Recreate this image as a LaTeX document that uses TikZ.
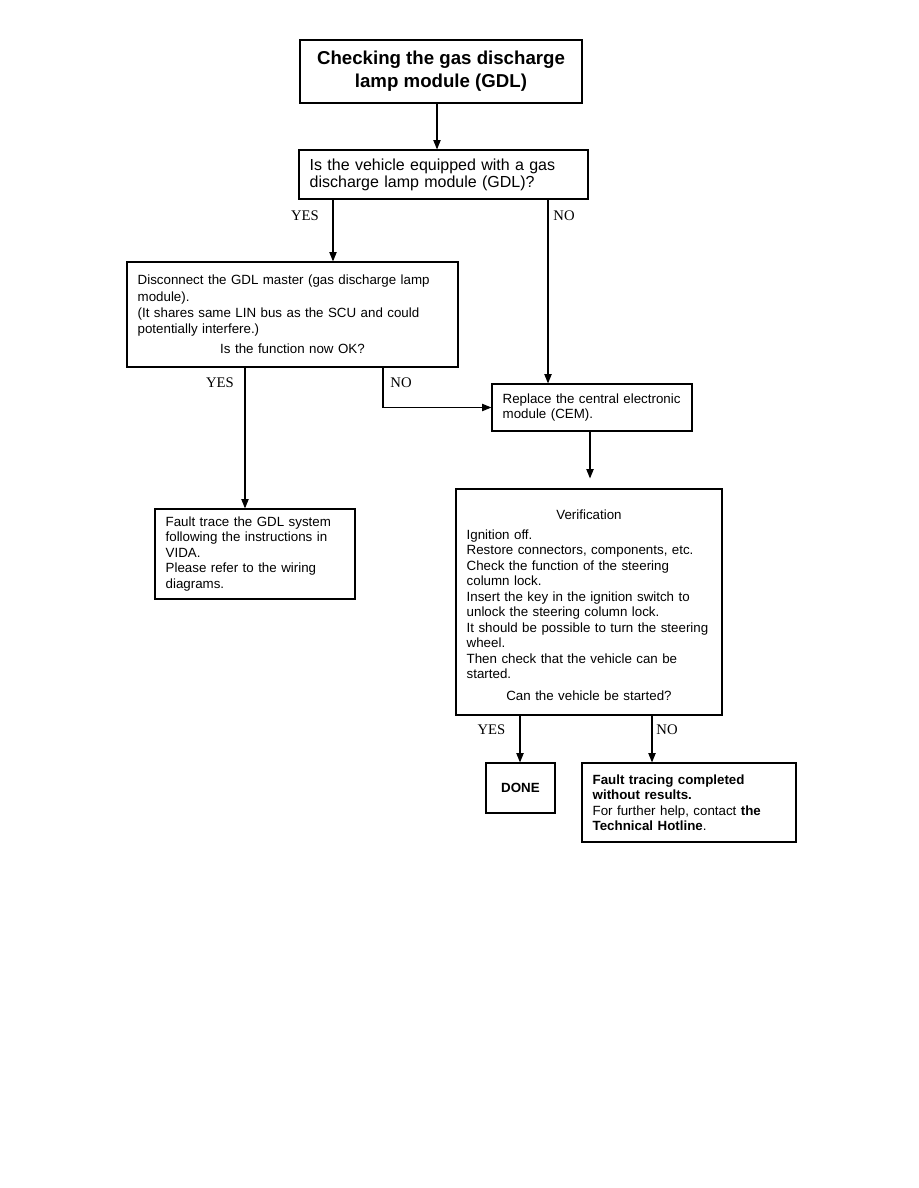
\documentclass[tikz,border=0pt]{standalone}
\usepackage{fontspec}
\setmainfont{Liberation Sans}
\newfontfamily\branchfont{Liberation Serif}
\usetikzlibrary{arrows.meta}
\begin{document}
\begin{tikzpicture}[x=0.75pt,y=-0.75pt,box/.style={draw,line width=0.9pt,fill=white,inner xsep=8pt,inner ysep=3pt,align=left,font=\fontsize{10}{11.6}\selectfont},flow/.style={line width=0.8pt,-{Triangle[length=7pt,width=5.5pt]}},branch/.style={font=\branchfont\fontsize{11}{13}\selectfont,inner sep=0pt}]
\useasboundingbox (0,0) rectangle (918,1188);
\coordinate (colTop) at (437,0);
\coordinate (colYesA) at (333,0);
\coordinate (colNoA) at (548,0);
\coordinate (colYesB) at (245,0);
\coordinate (colNoB) at (383,0);
\coordinate (colCem) at (590,0);
\coordinate (colYesC) at (520,0);
\coordinate (colNoC) at (652,0);
\node[box,line width=1.4pt,minimum width=211.5pt,minimum height=47.25pt,align=center,font=\bfseries\fontsize{14}{17.3}\selectfont] (title) at (441,71.5) {Checking the gas discharge\\lamp module (GDL)};
\node[box,minimum width=216.75pt,minimum height=36.75pt,text width=200.75pt,font=\fontsize{12}{12.8}\selectfont] (equipped) at (443.5,174.5) {Is the vehicle equipped with a gas\\discharge lamp module (GDL)?};
\node[box,minimum width=248.25pt,minimum height=78.75pt,text width=232.25pt,font=\fontsize{10}{12.2}\selectfont] (disconnect) at (292.5,314.5) {Disconnect the GDL master (gas discharge lamp\\module).\\(It shares same LIN bus as the SCU and could\\potentially interfere.)\par\vspace{3pt}\centerline{Is the function now OK?}\vspace{6pt}};
\node[box,minimum width=150pt,minimum height=35.25pt,text width=134pt] (cem) at (592,407.5) {Replace the central electronic\\module (CEM).};
\node[box,minimum width=150pt,minimum height=67.5pt,text width=134pt] (gdltrace) at (255,554) {Fault trace the GDL system\\following the instructions in\\VIDA.\\Please refer to the wiring\\diagrams.};
\node[box,minimum width=199.5pt,minimum height=169.5pt,text width=183.5pt] (verify) at (589,602) {\par\centerline{Verification}\vspace{3.4pt}Ignition off.\\Restore connectors, components, etc.\\Check the function of the steering\\column lock.\\Insert the key in the ignition switch to\\unlock the steering column lock.\\It should be possible to turn the steering\\wheel.\\Then check that the vehicle can be\\started.\par\vspace{4.6pt}\centerline{Can the vehicle be started?}};
\node[box,minimum width=51.75pt,minimum height=37.5pt,align=center,font=\bfseries\fontsize{10}{11.6}\selectfont] (done) at (520.5,788) {DONE};
\node[box,minimum width=160.5pt,minimum height=59.25pt,text width=144.5pt] (hotline) at (689,802.5) {\textbf{Fault tracing completed}\\\textbf{without results.}\\For further help, contact \textbf{the}\\\textbf{Technical Hotline}.};
\draw[flow] (title.south -| colTop) -- (equipped.north -| colTop);
\draw[flow] (equipped.south -| colYesA) -- (disconnect.north -| colYesA);
\draw[flow] (equipped.south -| colNoA) -- (cem.north -| colNoA);
\draw[flow] (disconnect.south -| colYesB) -- (gdltrace.north -| colYesB);
\draw[flow] (disconnect.south -| colNoB) |- (cem.west);
\draw[flow,shorten >=7.5pt] (cem.south -| colCem) -- (verify.north -| colCem);
\draw[flow] (verify.south -| colYesC) -- (done.north -| colYesC);
\draw[flow] (verify.south -| colNoC) -- (hotline.north -| colNoC);
\node[branch] (yesA) at (305,216) {YES};
\node[branch] (noA) at (564,216) {NO};
\node[branch] (yesB) at (220,382.5) {YES};
\node[branch] (noB) at (401,382.5) {NO};
\node[branch] (yesC) at (491.5,730) {YES};
\node[branch] (noC) at (667,730) {NO};
\end{tikzpicture}
\end{document}
